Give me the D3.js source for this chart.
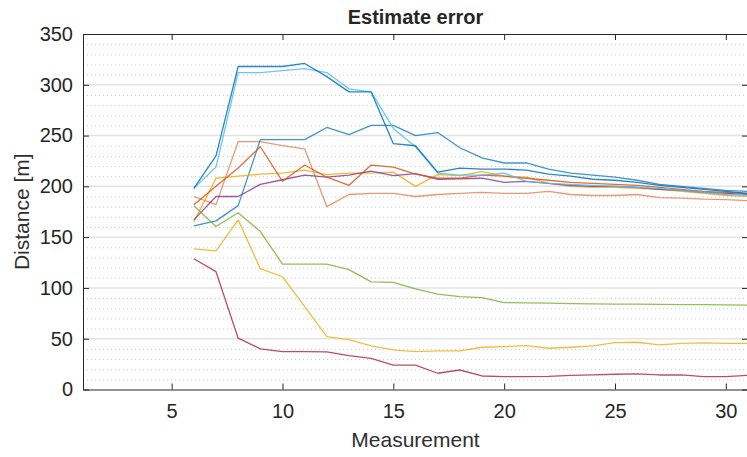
<!DOCTYPE html>
<html>
<head>
<meta charset="utf-8">
<script src="https://cdn.jsdelivr.net/npm/d3@7"></script>
<style>
  body { margin: 0; background: #fff; }
  text { font-family: "Liberation Sans", Arial, sans-serif; fill: #262626; }
</style>
</head>
<body>
<div id="chart"></div>
<script>
// measurements 6..31
const measurements = d3.range(6, 32);

const blueTop = [198, 230, 318, 318, 318, 321, 308, 293, 293, 242, 240, 214, 218, 217, 217, 216, 212, 210, 207, 206, 204, 201, 199, 197, 195, 193];
const lightBlue = [198, 219, 312, 312, 314, 316, 312, 296, 293, 257, 239, 213, 211, 211, 213, 205, 203, 202, 201, 200, 199, 198, 196, 194, 192, 191];
const blueMid = [161, 166, 181, 246, 246, 246, 258, 251, 260, 260, 250, 253, 238, 228, 223, 223, 217, 213, 211, 209, 206, 202, 200, 198, 196, 195];
const orangeDark = [182, 200, 218, 239, 205, 221, 209, 201, 221, 219, 212, 208, 208, 211, 210, 208, 206, 204, 203, 202, 201, 199, 197, 195, 194, 193];
const orangeLight = [190, 182, 244, 244, 240, 237, 180, 192, 193, 193, 190, 192, 193, 194, 193, 193, 195, 192, 191, 191, 192, 189, 188.5, 187.5, 187, 186];
const yellowTop = [165, 208, 210, 212, 213, 216, 211.5, 213, 213, 214, 200, 211.5, 210.5, 214.5, 210, 209, 203, 200, 199, 199, 198, 197, 195, 193, 191, 190];
const purple = [167, 190, 190, 202, 206.5, 211, 209, 211, 215, 210.5, 212.5, 207, 207.5, 208, 204, 205, 203, 201, 200, 200, 199, 197, 196, 194, 193, 192];
const green = [181, 160.5, 174, 155.5, 123.5, 123.5, 123.5, 118, 106, 105.5, 99, 94, 91.5, 90.5, 85.5, 85.3, 85, 84.5, 84.3, 84, 84, 83.8, 83.6, 83.5, 83.3, 83];
const yellowLow = [138.5, 136.5, 167, 119, 111, 81.5, 52, 49, 43, 39, 37.3, 38, 38, 41.6, 42.2, 43.2, 40.6, 41.6, 42.9, 46.2, 46.5, 44, 45.5, 46, 45.5, 45.5];
const red = [128.7, 116, 50.5, 40, 37.3, 37.3, 37, 33.3, 30.7, 24, 24, 16, 19.2, 13.3, 12.6, 12.6, 12.9, 14, 14.3, 15, 15.3, 14.3, 14.3, 12.6, 12.6, 14];

const xTicks = [5, 10, 15, 20, 25, 30];
const yTicks = [0, 50, 100, 150, 200, 250, 300, 350];

const series = [
  { values: orangeLight, color: "#D95319", opacity: 0.6 },
  { values: blueMid, color: "#0072BD", opacity: 0.75 },
  { values: yellowTop, color: "#EDB120", opacity: 0.9 },
  { values: purple, color: "#7E2F8E", opacity: 0.8 },
  { values: orangeDark, color: "#D95319", opacity: 0.85 },
  { values: lightBlue, color: "#4DBEEE", opacity: 0.85 },
  { values: blueTop, color: "#0072BD", opacity: 0.85 },
  { values: green, color: "#77AC30", opacity: 0.8 },
  { values: yellowLow, color: "#EDB120", opacity: 0.85 },
  { values: red, color: "#A2142F", opacity: 0.75 }
];

const svgWidth = 747;
const svgHeight = 457;
const margin = { top: 34, right: -1, bottom: 67.5, left: 83 };
const width = svgWidth - margin.left - margin.right;
const height = svgHeight - margin.top - margin.bottom;

const svg = d3.select("#chart")
  .append("svg")
  .attr("width", svgWidth)
  .attr("height", svgHeight);

svg.append("defs").append("clipPath")
  .attr("id", "plotClip")
  .append("rect")
  .attr("width", width)
  .attr("height", height);

const chartGroup = svg.append("g")
  .attr("transform", `translate(${margin.left}, ${margin.top})`);

const x = d3.scaleLinear().domain([1, 31]).range([0, width]);
const y = d3.scaleLinear().domain([0, 350]).range([height, 0]);

// minor grid (dotted)
chartGroup.append("g")
  .selectAll("line")
  .data(d3.range(10, 350, 10).filter(v => v % 50 !== 0))
  .enter()
  .append("line")
  .attr("x1", 0)
  .attr("x2", width)
  .attr("y1", d => y(d) + 0.5)
  .attr("y2", d => y(d) + 0.5)
  .attr("stroke", "#c8c8c8")
  .attr("stroke-dasharray", "1,3");

// major grid
chartGroup.append("g")
  .selectAll("line")
  .data(yTicks.slice(1, -1))
  .enter()
  .append("line")
  .attr("x1", 0)
  .attr("x2", width)
  .attr("y1", d => y(d))
  .attr("y2", d => y(d))
  .attr("stroke", "#e3e3e3")
  .attr("stroke-width", 1.5);

// lines
const line = d3.line()
  .x((d, i) => x(measurements[i]))
  .y(d => y(d));

chartGroup.append("g")
  .attr("clip-path", "url(#plotClip)")
  .selectAll("path")
  .data(series)
  .enter()
  .append("path")
  .attr("d", d => line(d.values))
  .attr("fill", "none")
  .attr("stroke", d => d.color)
  .attr("stroke-opacity", d => d.opacity)
  .attr("stroke-width", 1.3)
  .attr("stroke-linejoin", "round");

// axes
const bottomAxis = d3.axisBottom(x).tickValues(xTicks).tickSizeInner(-6).tickSizeOuter(0).tickPadding(14);
const topAxis = d3.axisTop(x).tickValues(xTicks).tickSizeInner(-6).tickSizeOuter(0).tickFormat("");
const leftAxis = d3.axisLeft(y).tickValues(yTicks).tickSizeInner(-6).tickSizeOuter(0).tickPadding(10);
const rightAxis = d3.axisRight(y).tickValues(yTicks).tickSizeInner(-6).tickSizeOuter(0).tickFormat("");

function styleAxis(g) {
  g.selectAll("path").attr("stroke", "#262626");
  g.selectAll("line").attr("stroke", "#262626");
  g.selectAll("text")
    .style("font-family", "'Liberation Sans', Arial, sans-serif")
    .style("font-size", "20px")
    .attr("fill", "#303030");
}

chartGroup.append("g")
  .attr("transform", `translate(0, ${height})`)
  .call(bottomAxis)
  .call(styleAxis);
chartGroup.append("g")
  .call(topAxis)
  .call(styleAxis);
chartGroup.append("g")
  .call(leftAxis)
  .call(styleAxis);
chartGroup.append("g")
  .attr("transform", `translate(${width}, 0)`)
  .call(rightAxis)
  .call(styleAxis);

// title and labels
svg.append("text")
  .attr("x", margin.left + width / 2)
  .attr("y", 24)
  .attr("text-anchor", "middle")
  .style("font-size", "20px")
  .style("font-weight", "bold")
  .text("Estimate error");

svg.append("text")
  .attr("x", margin.left + width / 2)
  .attr("y", 447)
  .attr("text-anchor", "middle")
  .style("font-size", "21px")
  .style("fill", "#303030")
  .text("Measurement");

svg.append("text")
  .attr("transform", `translate(29, ${margin.top + height / 2}) rotate(-90)`)
  .attr("text-anchor", "middle")
  .style("font-size", "21px")
  .style("fill", "#303030")
  .text("Distance [m]");
</script>
</body>
</html>
